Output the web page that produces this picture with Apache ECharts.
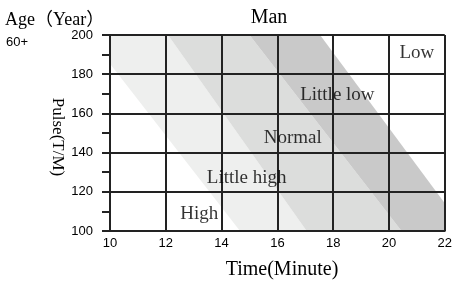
<!DOCTYPE html>
<html>
<head>
<meta charset="utf-8">
<script src="https://cdn.jsdelivr.net/npm/echarts@6/dist/echarts.min.js"></script>
<style>
html, body { margin: 0; padding: 0; background: #fff; }
#main { width: 455px; height: 286px; }
</style>
</head>
<body>
<div id="main"></div>
<script>
// band boundaries: x where each slanted line meets pulse 200 and pulse 100
var lineTopX = [9.2, 12.08, 15.0, 17.53];
var lineBottomX = [14.66, 17.05, 20.45, 22.74];
var bandColors = ['#eeefee', '#dcdddc', '#c9c9c9'];

// zone labels
var zoneNames = ['High', 'Little high', 'Normal', 'Little low', 'Low'];
var zoneX = [13.2, 14.9, 16.55, 18.15, 21.0];
var zoneY = [108.5, 127, 147.5, 169.5, 191];

var xTicks = [10, 12, 14, 16, 18, 20, 22];
var yTicks = [100, 120, 140, 160, 180, 200];

var serif = '"Liberation Serif", "Times New Roman", "Noto Sans CJK SC", serif';
var sans = '"Liberation Sans", Arial, sans-serif';

var chart = echarts.init(document.getElementById('main'));

var bandData = [];
for (var i = 0; i < bandColors.length; i++) {
    bandData.push([lineTopX[i], lineTopX[i + 1], lineBottomX[i + 1], lineBottomX[i]]);
}

var labelData = [];
for (var j = 0; j < zoneNames.length; j++) {
    labelData.push({ name: zoneNames[j], value: [zoneX[j], zoneY[j]] });
}

var option = {
    animation: false,
    backgroundColor: '#fff',
    grid: { left: 110, right: 10, top: 35, bottom: 55 },
    xAxis: {
        type: 'value',
        min: xTicks[0],
        max: xTicks[xTicks.length - 1],
        interval: 2,
        z: 5,
        axisLine: { lineStyle: { color: '#222', width: 2 } },
        axisTick: { show: false },
        axisLabel: { color: '#000', fontFamily: sans, fontSize: 13, margin: 6 },
        splitLine: { show: true, lineStyle: { color: '#222', width: 2 } }
    },
    yAxis: {
        type: 'value',
        min: yTicks[0],
        max: yTicks[yTicks.length - 1],
        interval: 20,
        z: 5,
        axisLine: { show: true, lineStyle: { color: '#222', width: 2 } },
        axisTick: { show: true, length: 8, lineStyle: { color: '#222', width: 2 } },
        minorTick: { show: true, splitNumber: 2, length: 8, lineStyle: { color: '#222', width: 2 } },
        axisLabel: { color: '#000', fontFamily: sans, fontSize: 13, margin: 17 },
        splitLine: { show: true, lineStyle: { color: '#222', width: 2 } }
    },
    graphic: [
        { type: 'text', x: 269, y: 18, style: { text: 'Man', font: '20px ' + serif, fill: '#000', textAlign: 'center', textVerticalAlign: 'middle' } },
        { type: 'text', x: 5, y: 20, style: { text: 'Age（Year）', font: '18px ' + serif, fill: '#000', textAlign: 'left', textVerticalAlign: 'middle' } },
        { type: 'text', x: 6, y: 42, style: { text: '60+', font: '13px ' + sans, fill: '#000', textAlign: 'left', textVerticalAlign: 'middle' } },
        { type: 'text', x: 282, y: 270, style: { text: 'Time(Minute)', font: '20px ' + serif, fill: '#000', textAlign: 'center', textVerticalAlign: 'middle' } },
        { type: 'text', x: 57, y: 137, rotation: -Math.PI / 2, style: { text: 'Pulse(T/M)', font: '17px ' + serif, fill: '#000', textAlign: 'center', textVerticalAlign: 'middle' } }
    ],
    series: [
        {
            type: 'custom',
            clip: true,
            z: 1,
            silent: true,
            data: bandData,
            renderItem: function (params, api) {
                var top = yTicks[yTicks.length - 1], bottom = yTicks[0];
                var pts = [
                    api.coord([api.value(0), top]),
                    api.coord([api.value(1), top]),
                    api.coord([api.value(2), bottom]),
                    api.coord([api.value(3), bottom])
                ];
                return {
                    type: 'polygon',
                    shape: { points: pts },
                    style: { fill: bandColors[params.dataIndex] }
                };
            }
        },
        {
            type: 'scatter',
            z: 10,
            symbolSize: 0,
            silent: true,
            data: labelData,
            label: {
                show: true,
                position: 'inside',
                formatter: '{b}',
                fontFamily: serif,
                fontSize: 19,
                color: '#000'
            }
        }
    ]
};

chart.setOption(option);
</script>
</body>
</html>
